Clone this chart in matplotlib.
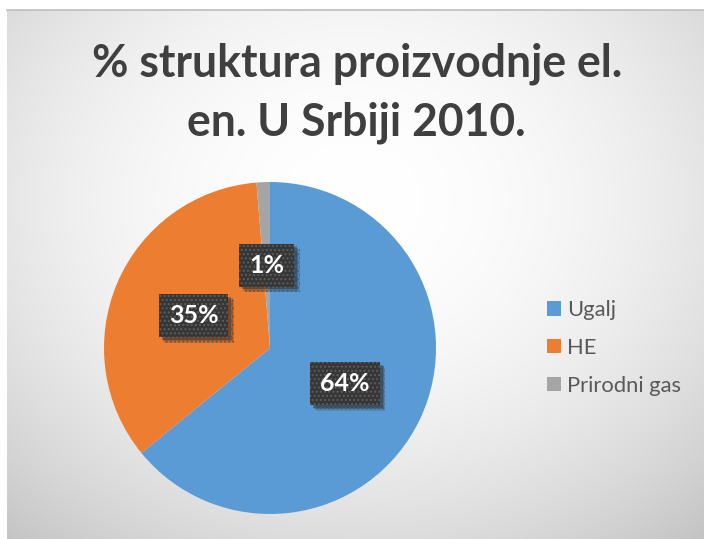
import matplotlib
matplotlib.use('Agg')
import matplotlib.pyplot as plt
import numpy as np
from matplotlib.patches import Patch
from matplotlib.lines import Line2D
import matplotlib.patheffects as pe

# ---- data ----
categories = ['Ugalj', 'HE', 'Prirodni gas']
values = [64.1, 34.6, 1.3]
colors = ['#5B9BD5', '#ED7D31', '#A5A5A5']
title_lines = ['% struktura proizvodnje el.', 'en. U Srbiji 2010.']

W, H = 704, 539
FONT = ['Lato', 'DejaVu Sans']
plt.rcParams['font.family'] = FONT

fig = plt.figure(figsize=(W / 100, H / 100), dpi=100)
fig.patch.set_facecolor('white')
renderer = fig.canvas.get_renderer()

# ---- background (radial gradient chart area) ----
x0, ytop = 7, 10
ny, nx = H - ytop, W - x0
yy, xx = np.mgrid[0:ny, 0:nx]
cx, cy = 345, 190
d2 = ((xx - cx) / 360.0) ** 2 + ((yy - cy) / 300.0) ** 2
val = np.clip(1 - 0.105 * d2, 0, 1)
rgb = np.dstack([val, val, val])
fig.figimage(rgb, xo=x0, yo=0, origin='upper', zorder=-10)
fig.add_artist(Line2D([x0 / W, 1], [(H - ytop) / H] * 2, color='#bdbdbd', lw=1.2,
                      transform=fig.transFigure, zorder=-5))


def fit_size(text, target_px, weight='normal'):
    t = fig.text(0, 0, text, fontsize=10, fontweight=weight)
    w = t.get_window_extent(renderer).width
    t.remove()
    return 10 * target_px / w


# ---- title ----
tsize = fit_size(title_lines[0], 532, 'bold')
fig.text(357 / W, 1 - 77 / H, title_lines[0], ha='center', va='baseline',
         fontsize=tsize, fontweight='bold', color='#3f3f3f')
fig.text(356 / W, 1 - 135 / H, title_lines[1], ha='center', va='baseline',
         fontsize=tsize, fontweight='bold', color='#3f3f3f')

# ---- pie ----
pcx, pcy, R = 270, 348, 166
ax = fig.add_axes([(pcx - R) / W, (H - pcy - R) / H, 2 * R / W, 2 * R / H])
ax.patch.set_alpha(0)
wedges, texts, autotexts = ax.pie(
    values, colors=colors, startangle=90, counterclock=False,
    autopct=lambda p: f'{p:.0f}%', pctdistance=0.5, radius=1,
    wedgeprops=dict(linewidth=0))
ax.set_xlim(-1, 1)
ax.set_ylim(-1, 1)
ax.set_aspect('equal')
ax.axis('off')

lab_fs = 18
for t in autotexts:
    t.set_color('white')
    t.set_fontweight('bold')
    t.set_fontsize(lab_fs)
    t.set_zorder(10)
    t.set_bbox(dict(boxstyle='square,pad=0.4', facecolor='#363636',
                    edgecolor='#5c5c5c', linewidth=0, hatch='....'))
    t.get_bbox_patch().set_path_effects([
        pe.SimplePatchShadow(offset=(4, -4), shadow_rgbFace='black', alpha=0.12),
        pe.SimplePatchShadow(offset=(3, -3), shadow_rgbFace='black', alpha=0.18),
        pe.SimplePatchShadow(offset=(2, -2), shadow_rgbFace='black', alpha=0.25),
        pe.Normal()])

# ---- legend ----
lfs = fit_size('Prirodni gas', 115)
lpx = lfs * 100 / 72
handles = [Patch(facecolor=c, edgecolor='none') for c in colors]
leg = fig.legend(handles, categories, loc='center left',
                 bbox_to_anchor=(547 / W, 1 - 348 / H),
                 frameon=False, fontsize=lfs, borderpad=0, borderaxespad=0,
                 handlelength=14 / lpx, handleheight=14 / lpx,
                 handletextpad=6 / lpx, labelspacing=(44 - 1.2 * lpx) / lpx)
for txt in leg.get_texts():
    txt.set_color('#595959')

fig.savefig('out.png', dpi=100, facecolor='white')
